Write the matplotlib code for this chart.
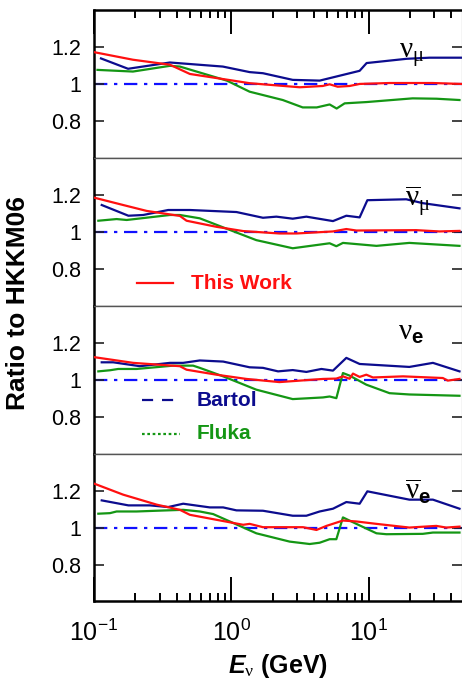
import matplotlib
matplotlib.use('Agg')
import matplotlib.pyplot as plt
from matplotlib.ticker import LogLocator, NullFormatter

plt.rcParams['font.family'] = ['Liberation Sans', 'DejaVu Sans']
plt.rcParams['mathtext.fontset'] = 'custom'
plt.rcParams['mathtext.rm'] = 'Liberation Serif'
plt.rcParams['mathtext.it'] = 'Liberation Serif:italic'
plt.rcParams['mathtext.bf'] = 'Liberation Sans:bold'
plt.rcParams['mathtext.bfit'] = 'Liberation Sans:bold:italic'

# ---- data (energy in GeV, ratio to HKKM06) ----
# nu_mu
numu_work_E = [0.1, 0.192, 0.357, 0.499, 1.03, 1.36, 3.15, 4.63, 5.2, 5.95, 7.27, 8.6, 14.2, 29.2, 47.5]
numu_work_R = [1.172, 1.131, 1.104, 1.054, 1.018, 1.004, 0.982, 0.989, 0.998, 0.985, 0.989, 1.0, 1.005, 1.005, 1.0]
numu_bartol_E = [0.1124, 0.177, 0.357, 0.867, 1.36, 1.7, 2.8, 4.4, 8.6, 9.67, 18.9, 27.8, 47.5]
numu_bartol_R = [1.138, 1.082, 1.116, 1.094, 1.064, 1.058, 1.022, 1.018, 1.071, 1.113, 1.136, 1.142, 1.142]
numu_fluka_E = [0.106, 0.192, 0.357, 0.422, 0.927, 1.36, 2.37, 3.31, 4.19, 5.2, 5.85, 6.69, 9.67, 20.9, 31.2, 45.9]
numu_fluka_R = [1.076, 1.067, 1.098, 1.094, 1.018, 0.958, 0.913, 0.873, 0.873, 0.889, 0.867, 0.895, 0.902, 0.922, 0.92, 0.913]

# anti nu_mu
anumu_work_E = [0.1, 0.163, 0.242, 0.422, 0.472, 0.78, 1.22, 2.24, 2.98, 5.5, 6.88, 8.14, 22.2, 32.8, 45.9]
anumu_work_R = [1.185, 1.145, 1.113, 1.086, 1.06, 1.027, 1.004, 0.991, 0.991, 1.002, 1.015, 1.007, 1.009, 1.002, 1.005]
anumu_bartol_E = [0.1138, 0.178, 0.228, 0.347, 0.499, 1.09, 1.70, 2.13, 2.8, 3.52, 5.5, 6.88, 8.6, 9.79, 18.8, 24.8, 45.9]
anumu_bartol_R = [1.145, 1.087, 1.091, 1.118, 1.118, 1.107, 1.076, 1.082, 1.071, 1.082, 1.058, 1.087, 1.078, 1.171, 1.176, 1.155, 1.127]
anumu_fluka_E = [0.1075, 0.146, 0.173, 0.357, 0.422, 0.589, 0.872, 1.52, 2.8, 5.2, 5.82, 6.5, 11.4, 19.8, 45.9]
anumu_fluka_R = [1.06, 1.069, 1.064, 1.091, 1.091, 1.073, 1.024, 0.955, 0.911, 0.938, 0.922, 0.94, 0.924, 0.94, 0.924]

# nu_e
nue_work_E = [0.1, 0.193, 0.422, 0.472, 0.78, 1.29, 2.24, 4.65, 5.82, 6.5, 7.27, 7.69, 8.6, 9.62, 10.75, 17.8, 34.7, 37.7, 45.9]
nue_work_R = [1.122, 1.091, 1.073, 1.054, 1.027, 1.004, 0.987, 1.004, 1.006, 1.018, 1.005, 1.033, 1.015, 1.027, 1.012, 1.018, 1.009, 0.995, 1.004]
nue_bartol_E = [0.1138, 0.138, 0.216, 0.357, 0.446, 0.589, 0.872, 1.36, 1.70, 2.19, 2.8, 3.52, 4.53, 5.5, 6.88, 8.6, 19.8, 29.4, 45.9]
nue_bartol_R = [1.094, 1.094, 1.073, 1.091, 1.091, 1.104, 1.098, 1.067, 1.064, 1.045, 1.052, 1.042, 1.058, 1.049, 1.118, 1.085, 1.069, 1.091, 1.045]
nue_fluka_E = [0.1075, 0.1307, 0.150, 0.204, 0.377, 0.527, 0.589, 0.872, 1.52, 2.8, 4.65, 5.2, 5.82, 6.5, 7.27, 9.62, 14.2, 19.8, 45.9]
nue_fluka_R = [1.045, 1.051, 1.058, 1.058, 1.076, 1.076, 1.064, 1.018, 0.946, 0.895, 0.904, 0.909, 0.900, 1.036, 1.022, 0.973, 0.927, 0.92, 0.913]

# anti nu_e
anue_work_E = [0.1, 0.163, 0.216, 0.286, 0.422, 0.499, 0.78, 1.22, 1.36, 1.70, 3.33, 4.17, 4.93, 6.5, 8.14, 11.4, 19.8, 31.1, 36.7, 45.9]
anue_work_R = [1.238, 1.178, 1.151, 1.124, 1.096, 1.069, 1.042, 1.015, 1.02, 1.002, 1.002, 0.987, 1.009, 1.038, 1.033, 1.02, 1.0, 1.009, 1.0, 1.005]
anue_bartol_E = [0.1138, 0.178, 0.255, 0.347, 0.446, 0.698, 0.872, 1.09, 1.70, 2.8, 3.52, 4.40, 5.5, 6.88, 8.6, 9.79, 19.8, 29.4, 45.9]
anue_bartol_R = [1.147, 1.12, 1.12, 1.111, 1.129, 1.109, 1.109, 1.093, 1.091, 1.064, 1.064, 1.087, 1.102, 1.138, 1.129, 1.196, 1.151, 1.151, 1.102]
anue_fluka_E = [0.1075, 0.1307, 0.146, 0.204, 0.286, 0.446, 0.589, 0.737, 0.975, 1.52, 2.66, 3.72, 4.40, 5.2, 5.82, 6.5, 8.14, 11.4, 13.45, 24.8, 29.4, 45.9]
anue_fluka_R = [1.075, 1.078, 1.087, 1.087, 1.091, 1.096, 1.087, 1.073, 1.033, 0.969, 0.924, 0.911, 0.918, 0.937, 0.937, 1.055, 1.02, 0.969, 0.964, 0.966, 0.973, 0.973]

panel_labels = [r'$\mathrm{\nu}_{\mathrm{\mu}}$', r'$\overline{\mathrm{\nu}}_{\mathrm{\mu}}$',
                r'$\mathrm{\nu}_{\mathbf{e}}$', r'$\overline{\mathrm{\nu}}_{\mathbf{e}}$']
label_pos = [(0.829, 0.675), (0.845, 0.661), (0.826, 0.768), (0.845, 0.686)]

panels = [
    (numu_work_E, numu_work_R, numu_bartol_E, numu_bartol_R, numu_fluka_E, numu_fluka_R),
    (anumu_work_E, anumu_work_R, anumu_bartol_E, anumu_bartol_R, anumu_fluka_E, anumu_fluka_R),
    (nue_work_E, nue_work_R, nue_bartol_E, nue_bartol_R, nue_fluka_E, nue_fluka_R),
    (anue_work_E, anue_work_R, anue_bartol_E, anue_bartol_R, anue_fluka_E, anue_fluka_R),
]

red = '#ff1010'
navy = '#0c0c8e'
green = '#149614'
blue = '#1010ff'

fig, axes = plt.subplots(4, 1, sharex=True, figsize=(4.62, 6.85), dpi=100)
fig.subplots_adjust(left=0.2035, right=0.999, top=0.9854, bottom=0.1219, hspace=0)

for i, ax in enumerate(axes):
    wE, wR, bE, bR, fE, fR = panels[i]
    ax.axhline(1.0, color=blue, lw=1.6, ls=(0, (6, 3, 1.5, 3)), zorder=1)
    ax.plot(bE, bR, color=navy, lw=1.6, zorder=2)
    ax.plot(fE, fR, color=green, lw=1.6, zorder=3)
    ax.plot(wE, wR, color=red, lw=1.6, zorder=4)

    ax.set_xscale('log')
    ax.set_xlim(0.1, 47.5)
    ax.set_ylim(0.6, 1.4)
    ax.set_yticks([0.8, 1.0, 1.2])
    ax.set_yticklabels(['0.8', '1', '1.2'])
    ax.tick_params(axis='y', direction='in', length=7, width=1.2, left=True, right=True,
                   labelsize=15.5, pad=9, color='#222222')
    ax.xaxis.set_major_locator(LogLocator(base=10))
    ax.xaxis.set_minor_locator(LogLocator(base=10, subs=range(2, 10)))
    ax.xaxis.set_minor_formatter(NullFormatter())
    ax.tick_params(axis='x', which='both', direction='in', top=False, bottom=False,
                   labelbottom=False, width=1.4)
    ax.tick_params(axis='x', which='major', length=17)
    ax.tick_params(axis='x', which='minor', length=5.5)

    for side in ['top', 'bottom']:
        ax.spines[side].set_color('#555555')
        ax.spines[side].set_linewidth(1.0)
    ax.spines['left'].set_linewidth(1.8)
    ax.spines['right'].set_color('#555555')

    ax.text(label_pos[i][0], label_pos[i][1], panel_labels[i], transform=ax.transAxes,
            fontsize=21, ha='left', va='baseline')

axes[0].tick_params(axis='x', which='both', top=True)
axes[0].spines['top'].set_color('black')
axes[0].spines['top'].set_linewidth(1.8)
axes[3].tick_params(axis='x', which='both', bottom=True, labelbottom=True, labelsize=18, pad=13)
axes[3].spines['bottom'].set_color('black')
axes[3].spines['bottom'].set_linewidth(1.8)
axes[3].set_xlabel(r'$\mathbfit{E}_{\mathrm{\nu}}$ (GeV)', fontsize=18, fontweight='bold', labelpad=4)

# hand-made legend entries
axes[1].plot([0.117, 0.215], [0.153, 0.153], transform=axes[1].transAxes, color=red, lw=1.6)
axes[1].text(0.263, 0.153, 'This Work', transform=axes[1].transAxes, color=red,
             fontsize=15, fontweight='bold', va='center')
axes[2].plot([0.13, 0.234], [0.362, 0.362], transform=axes[2].transAxes, color=navy, lw=1.6,
             ls=(0, (5, 4)))
axes[2].text(0.279, 0.362, 'Bartol', transform=axes[2].transAxes, color=navy,
             fontsize=15, fontweight='bold', va='center')
axes[2].plot([0.13, 0.234], [0.133, 0.133], transform=axes[2].transAxes, color=green, lw=1.6,
             ls=(0, (1.2, 1.2)))
axes[2].text(0.279, 0.133, 'Fluka', transform=axes[2].transAxes, color=green,
             fontsize=15, fontweight='bold', va='center')

fig.text(18 / 462, 1 - 303 / 685, 'Ratio to HKKM06', rotation=90, fontsize=19,
         fontweight='bold', ha='center', va='center')

plt.savefig('out.png', dpi=100)
